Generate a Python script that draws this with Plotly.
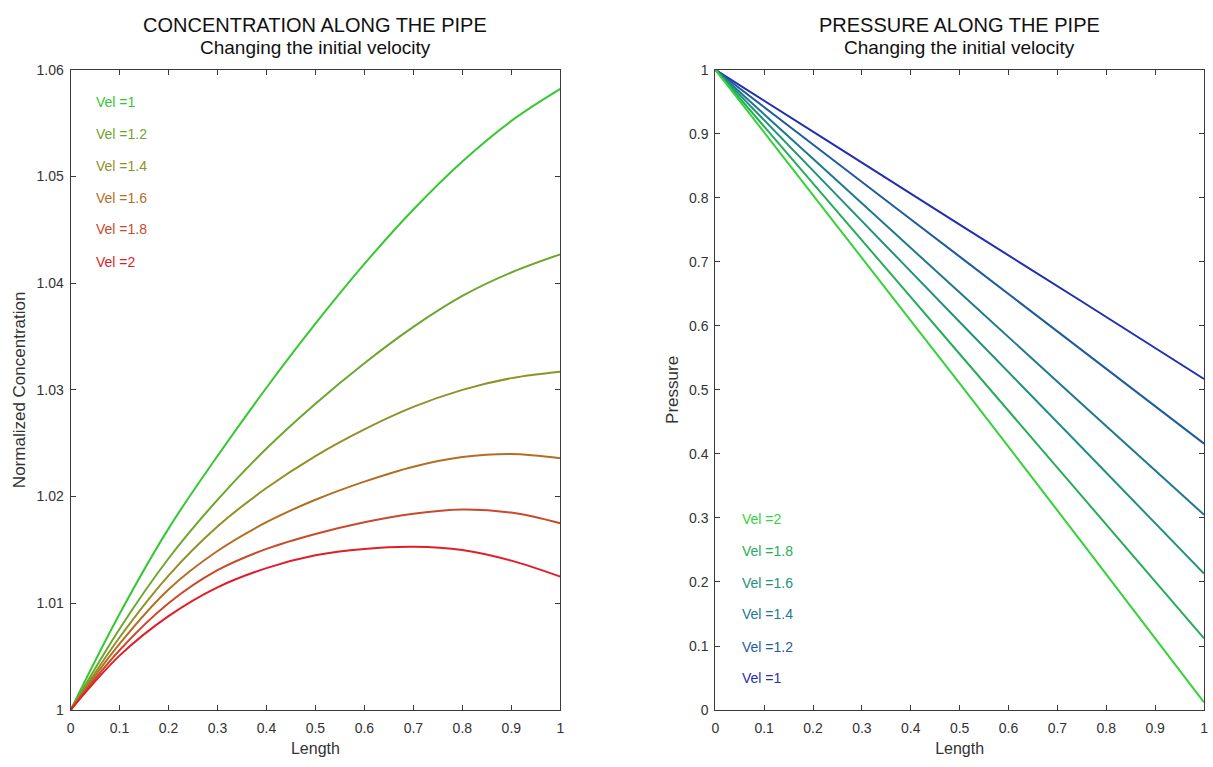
import plotly.graph_objects as go

# ---- data -------------------------------------------------------------
length_pts = [0, 0.1, 0.2, 0.3, 0.4, 0.5, 0.6, 0.7, 0.8, 0.9, 1.0]

conc_vel_1_0 = [1.0, 1.0090, 1.0170, 1.0238, 1.0302, 1.0362, 1.0418, 1.0469, 1.0514, 1.0552, 1.0582]
conc_vel_1_2 = [1.0, 1.0076, 1.0142, 1.0197, 1.0245, 1.0287, 1.0325, 1.0359, 1.0388, 1.0410, 1.0427]
conc_vel_1_4 = [1.0, 1.0068, 1.0126, 1.0172, 1.0208, 1.0238, 1.0263, 1.0284, 1.0300, 1.0311, 1.0317]
conc_vel_1_6 = [1.0, 1.0062, 1.0113, 1.0149, 1.0176, 1.0197, 1.0214, 1.0228, 1.0237, 1.0240, 1.0236]
conc_vel_1_8 = [1.0, 1.0056, 1.0100, 1.0131, 1.0151, 1.0165, 1.0176, 1.0184, 1.0188, 1.0185, 1.0175]
conc_vel_2_0 = [1.0, 1.0051, 1.0088, 1.0115, 1.0133, 1.0145, 1.0151, 1.0153, 1.0150, 1.0140, 1.0125]

press_len = [0, 0.25, 0.5, 0.75, 1.0]
press_vel_1_0 = [1.0, 0.879, 0.758, 0.638, 0.517]
press_vel_1_2 = [1.0, 0.854, 0.708, 0.562, 0.416]
press_vel_1_4 = [1.0, 0.826, 0.652, 0.478, 0.305]
press_vel_1_6 = [1.0, 0.803, 0.606, 0.410, 0.213]
press_vel_1_8 = [1.0, 0.778, 0.556, 0.334, 0.112]
press_vel_2_0 = [1.0, 0.755, 0.510, 0.262, 0.012]

vel_labels = ["Vel =1", "Vel =1.2", "Vel =1.4", "Vel =1.6", "Vel =1.8", "Vel =2"]

x_ticks = [0, 0.1, 0.2, 0.3, 0.4, 0.5, 0.6, 0.7, 0.8, 0.9, 1]
conc_ticks = [1, 1.01, 1.02, 1.03, 1.04, 1.05, 1.06]
press_ticks = [0, 0.1, 0.2, 0.3, 0.4, 0.5, 0.6, 0.7, 0.8, 0.9, 1]

# ---- styling ----------------------------------------------------------
conc_colors = ["#35c832", "#6da62c", "#8f9226", "#b26f22", "#c84a2a", "#e01e2a"]
press_colors = ["#1f2fb0", "#1f5c9c", "#21788f", "#22917a", "#27ad5a", "#35d23a"]

FONT = "Arial, Liberation Sans, sans-serif"
AX_COLOR = "#3a3a3a"
TXT_COLOR = "#333333"

conc_series = [conc_vel_1_0, conc_vel_1_2, conc_vel_1_4,
               conc_vel_1_6, conc_vel_1_8, conc_vel_2_0]
press_series = [press_vel_1_0, press_vel_1_2, press_vel_1_4,
                press_vel_1_6, press_vel_1_8, press_vel_2_0]

fig = go.Figure()

for name, ys, col in zip(vel_labels, conc_series, conc_colors):
    fig.add_trace(go.Scatter(
        x=length_pts, y=ys, mode="lines", name=name,
        line=dict(color=col, width=2, shape="spline", smoothing=1.0),
        xaxis="x", yaxis="y", showlegend=False))

for name, ys, col in zip(vel_labels, press_series, press_colors):
    fig.add_trace(go.Scatter(
        x=press_len, y=ys, mode="lines", name=name,
        line=dict(color=col, width=2, shape="spline", smoothing=0.6),
        xaxis="x2", yaxis="y2", showlegend=False))

W, H = 1213, 767
left_dom = [67 / W, 560 / W]
right_dom = [716 / W, 1208 / W]
y_dom = [1 - 717 / H, 1 - 63 / H]

axis_common = dict(
    showline=True, linecolor=AX_COLOR, linewidth=1, mirror="ticks",
    ticks="inside", ticklen=5, tickcolor=AX_COLOR, tickwidth=1,
    showgrid=False, zeroline=False,
    tickfont=dict(family=FONT, size=14, color=TXT_COLOR),
)
x_extra = dict(ticklabelstandoff=5)
y_extra = dict(ticklabelstandoff=3)

x_title_font = dict(family=FONT, size=16, color=TXT_COLOR)
y_title_font = dict(family=FONT, size=17, color=TXT_COLOR)

fig.update_layout(
    width=W, height=H,
    margin=dict(l=0, r=0, t=0, b=0),
    paper_bgcolor="white", plot_bgcolor="white",
    font=dict(family=FONT, color=TXT_COLOR),
    xaxis=dict(domain=left_dom, anchor="y", range=[0, 1], tickvals=x_ticks,
               title=dict(text="Length", font=x_title_font, standoff=7),
               **axis_common, **x_extra),
    yaxis=dict(domain=y_dom, anchor="x", range=[1, 1.06], tickvals=conc_ticks,
               title=dict(text="Normalized Concentration", font=y_title_font, standoff=6),
               **axis_common, **y_extra),
    xaxis2=dict(domain=right_dom, anchor="y2", range=[0, 1], tickvals=x_ticks,
                title=dict(text="Length", font=x_title_font, standoff=7),
                **axis_common, **x_extra),
    yaxis2=dict(domain=y_dom, anchor="x2", range=[0, 1], tickvals=press_ticks,
                title=dict(text="Pressure", font=y_title_font, standoff=6),
                **axis_common, **y_extra),
)

# titles
titles = [
    (sum(left_dom) / 2, "CONCENTRATION ALONG THE PIPE"),
    (sum(right_dom) / 2, "PRESSURE ALONG THE PIPE"),
]
for xc, main in titles:
    fig.add_annotation(xref="paper", yref="paper", x=xc, y=1 - 17 / H,
                       text=main, showarrow=False, xanchor="center", yanchor="middle",
                       font=dict(family=FONT, size=20, color="#111111"))
    fig.add_annotation(xref="paper", yref="paper", x=xc, y=1 - 40 / H,
                       text="Changing the initial velocity", showarrow=False,
                       xanchor="center", yanchor="middle",
                       font=dict(family=FONT, size=19, color="#111111"))

# in-plot labels for each velocity
conc_label_y = [1.0570, 1.0540, 1.0510, 1.0480, 1.0451, 1.0420]
for txt, yv, col in zip(vel_labels, conc_label_y, conc_colors):
    fig.add_annotation(xref="x", yref="y", x=0.048, y=yv, text=txt,
                       showarrow=False, xanchor="left", yanchor="middle",
                       font=dict(family=FONT, size=14, color=col))

press_label_y = [0.050, 0.099, 0.150, 0.199, 0.249, 0.298]
for txt, yv, col in zip(vel_labels, press_label_y, press_colors):
    fig.add_annotation(xref="x2", yref="y2", x=0.05, y=yv, text=txt,
                       showarrow=False, xanchor="left", yanchor="middle",
                       font=dict(family=FONT, size=14, color=col))

fig.write_html("out.html")
